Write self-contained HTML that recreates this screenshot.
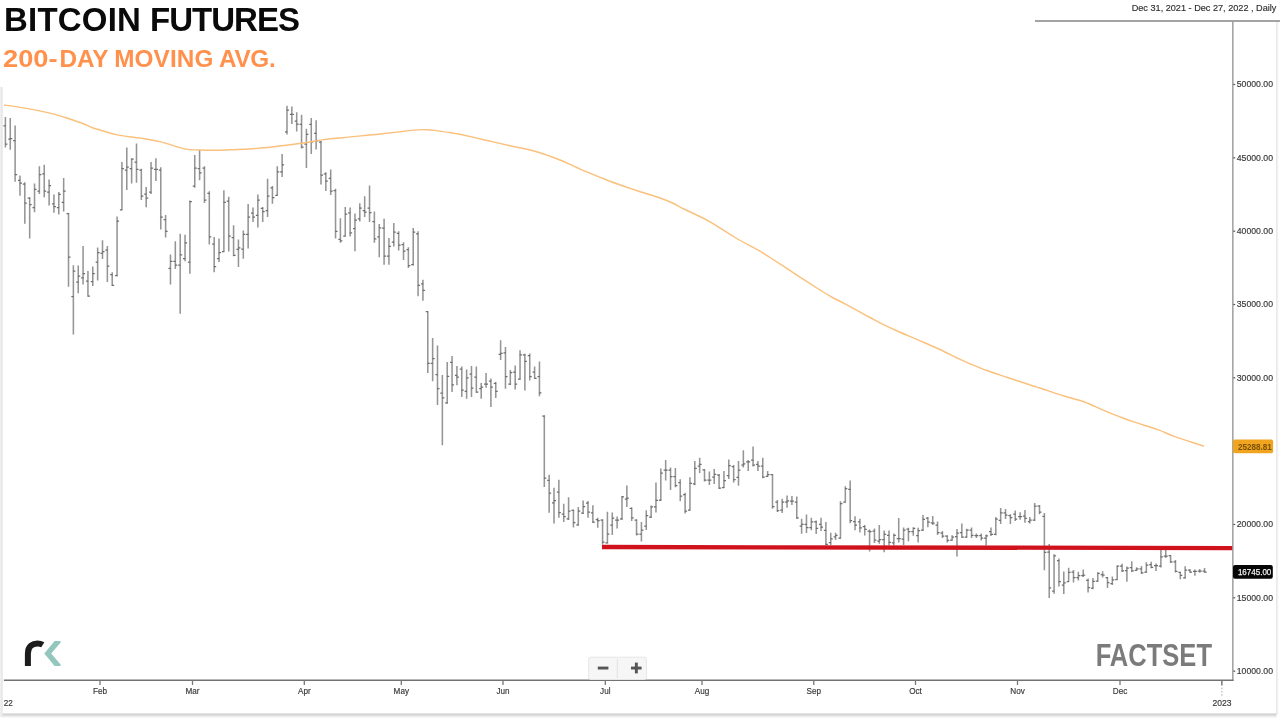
<!DOCTYPE html>
<html lang="en"><head><meta charset="utf-8"><title>Bitcoin Futures</title>
<style>
html,body{margin:0;padding:0;background:#fff;}
body{width:1280px;height:720px;position:relative;overflow:hidden;font-family:"Liberation Sans",sans-serif;}
.title{position:absolute;left:4px;top:1px;margin:0;font-weight:700;font-size:33px;line-height:38px;color:#0a0a0a;white-space:nowrap;letter-spacing:-0.3px;}
.sub{position:absolute;left:3px;top:44.7px;margin:0;font-weight:700;font-size:24.3px;line-height:28px;color:#ff914d;white-space:nowrap;letter-spacing:0.4px;}
svg{position:absolute;left:0;top:0;}
#t1{letter-spacing:0.2px;}#t2{letter-spacing:-0.95px;margin-left:0px;}#s1a{display:inline-block;width:56.5px;transform:scaleX(1.12);transform-origin:0 50%;letter-spacing:0;}#s1{letter-spacing:-0.1px;}#s2{letter-spacing:0.1px;margin-left:-1.2px;}#s3{letter-spacing:-0.3px;margin-left:-1.6px;}
svg text{font-family:"Liberation Sans",sans-serif;}
</style></head><body>
<svg width="1280" height="720" viewBox="0 0 1280 720">
<defs>
<linearGradient id="lg" x1="0" x2="1" y1="0" y2="0"><stop offset="0" stop-color="#f3f3f3"/><stop offset="0.7" stop-color="#e4e4e4"/><stop offset="1" stop-color="#f6f6f6"/></linearGradient>
<linearGradient id="bg" x1="0" x2="0" y1="0" y2="1"><stop offset="0" stop-color="#ffffff"/><stop offset="0.28" stop-color="#cfcfcf"/><stop offset="0.6" stop-color="#e8e8e8"/><stop offset="1" stop-color="#ffffff"/></linearGradient>
<linearGradient id="rg" x1="0" x2="1" y1="0" y2="0"><stop offset="0" stop-color="#e6e6e6"/><stop offset="1" stop-color="#f7f7f7"/></linearGradient>
</defs>
<rect x="0" y="87" width="3" height="630" fill="url(#lg)"/>
<rect x="2.6" y="712.6" width="1274" height="5.8" fill="url(#bg)"/>
<rect x="1276" y="22" width="2.4" height="693" fill="url(#rg)"/>
<g fill="none">
<line x1="1035" y1="21" x2="1280" y2="21" stroke="#a4a4a4" stroke-width="1.8"/>
<line x1="1232.85" y1="21.5" x2="1232.85" y2="680.9" stroke="#949494" stroke-width="1.35"/>
<line x1="3.9" y1="680.25" x2="1233.5" y2="680.25" stroke="#727272" stroke-width="1.3"/>
</g>
<g stroke="#666" stroke-width="1"><line x1="100" y1="680" x2="100" y2="685" stroke="#777" stroke-width="1.3"/><line x1="192.5" y1="680" x2="192.5" y2="685" stroke="#777" stroke-width="1.3"/><line x1="304.3" y1="680" x2="304.3" y2="685" stroke="#777" stroke-width="1.3"/><line x1="401.3" y1="680" x2="401.3" y2="685" stroke="#777" stroke-width="1.3"/><line x1="503" y1="680" x2="503" y2="685" stroke="#777" stroke-width="1.3"/><line x1="605.3" y1="680" x2="605.3" y2="685" stroke="#777" stroke-width="1.3"/><line x1="702" y1="680" x2="702" y2="685" stroke="#777" stroke-width="1.3"/><line x1="813.75" y1="680" x2="813.75" y2="685" stroke="#777" stroke-width="1.3"/><line x1="915.5" y1="680" x2="915.5" y2="685" stroke="#777" stroke-width="1.3"/><line x1="1017.5" y1="680" x2="1017.5" y2="685" stroke="#777" stroke-width="1.3"/><line x1="1120" y1="680" x2="1120" y2="685" stroke="#777" stroke-width="1.3"/><line x1="1233.3" y1="84.5" x2="1235.2" y2="84.5" stroke="#555" stroke-width="1.2"/><line x1="1233.3" y1="157.8" x2="1235.2" y2="157.8" stroke="#555" stroke-width="1.2"/><line x1="1233.3" y1="231.2" x2="1235.2" y2="231.2" stroke="#555" stroke-width="1.2"/><line x1="1233.3" y1="304.5" x2="1235.2" y2="304.5" stroke="#555" stroke-width="1.2"/><line x1="1233.3" y1="377.8" x2="1235.2" y2="377.8" stroke="#555" stroke-width="1.2"/><line x1="1233.3" y1="524.5" x2="1235.2" y2="524.5" stroke="#555" stroke-width="1.2"/><line x1="1233.3" y1="597.8" x2="1235.2" y2="597.8" stroke="#555" stroke-width="1.2"/><line x1="1233.3" y1="671.2" x2="1235.2" y2="671.2" stroke="#555" stroke-width="1.2"/><line x1="1221.85" y1="680" x2="1221.85" y2="685.6" stroke="#777" stroke-width="1.5"/><line x1="1221.85" y1="687.7" x2="1221.85" y2="696.5" stroke="#c4c4c4" stroke-width="1.5" stroke-dasharray="1.5 1.8"/></g>
<g font-size="9.6" fill="#383838" stroke="#383838" stroke-width="0.18"><text transform="translate(100,693.9) scale(0.85,1)" text-anchor="middle">Feb</text><text transform="translate(192.5,693.9) scale(0.85,1)" text-anchor="middle">Mar</text><text transform="translate(304.3,693.9) scale(0.85,1)" text-anchor="middle">Apr</text><text transform="translate(401.3,693.9) scale(0.85,1)" text-anchor="middle">May</text><text transform="translate(503,693.9) scale(0.85,1)" text-anchor="middle">Jun</text><text transform="translate(605.3,693.9) scale(0.85,1)" text-anchor="middle">Jul</text><text transform="translate(702,693.9) scale(0.85,1)" text-anchor="middle">Aug</text><text transform="translate(813.75,693.9) scale(0.85,1)" text-anchor="middle">Sep</text><text transform="translate(915.5,693.9) scale(0.85,1)" text-anchor="middle">Oct</text><text transform="translate(1017.5,693.9) scale(0.85,1)" text-anchor="middle">Nov</text><text transform="translate(1120,693.9) scale(0.85,1)" text-anchor="middle">Dec</text><text transform="translate(1236.8,87.2) scale(0.905,1)">50000.00</text><text transform="translate(1236.8,160.5) scale(0.905,1)">45000.00</text><text transform="translate(1236.8,233.9) scale(0.905,1)">40000.00</text><text transform="translate(1236.8,307.2) scale(0.905,1)">35000.00</text><text transform="translate(1236.8,380.5) scale(0.905,1)">30000.00</text><text transform="translate(1236.8,527.2) scale(0.905,1)">20000.00</text><text transform="translate(1236.8,600.5) scale(0.905,1)">15000.00</text><text transform="translate(1236.8,673.9) scale(0.905,1)">10000.00</text>
<text transform="translate(3.7,705.6) scale(0.85,1)">22</text>
<text transform="translate(1221.9,705.6) scale(0.89,1)" text-anchor="middle">2023</text>
<text x="1131.7" y="10.9" font-size="9.6" textLength="144.7" lengthAdjust="spacingAndGlyphs" fill="#2e2e2e" stroke="#2e2e2e" stroke-width="0.15">Dec 31, 2021 - Dec 27, 2022 , Daily</text>
</g>
<path d="M5.40 117.1V147.5M10.26 118.1V149.8M15.11 125.4V181.8M19.97 175.6V195.7M24.82 182.2V223.8M29.68 197.2V238.4M34.53 183.5V212.2M39.38 166.2V194.0M44.24 164.8V197.2M49.10 179.4V205.6M53.95 194.4V212.8M58.80 191.9V214.6M63.66 177.9V211.6M68.52 213.1V286.8M73.37 265.2V334.5M78.23 265.6V293.2M83.08 245.9V284.4M87.94 270.9V296.6M92.79 266.6V285.9M97.65 247.4V280.6M102.50 240.3V259.0M107.36 245.9V281.9M112.21 272.2V285.9M117.07 216.5V276.3M121.92 162.1V210.3M126.78 147.5V190.0M131.63 158.2V183.5M136.49 143.4V182.8M141.34 168.7V200.0M146.20 186.9V207.3M151.05 162.1V194.0M155.91 158.2V180.9M160.76 167.2V229.6M165.62 215.0V237.5M170.47 254.4V284.4M175.33 241.2V269.0M180.18 233.8V313.8M185.04 234.7V261.3M189.89 200.6V273.7M194.75 155.0V187.8M199.60 149.8V180.3M204.46 166.2V203.0M209.31 191.2V244.4M214.17 236.9V272.2M219.02 238.4V261.9M223.88 190.2V252.1M228.73 196.8V251.6M233.59 225.3V256.2M238.44 239.4V267.0M243.30 230.4V258.7M248.15 204.1V248.4M253.01 207.5V221.9M257.86 194.4V227.6M262.71 206.9V221.9M267.57 178.8V216.9M272.43 185.9V203.8M277.28 166.2V195.7M282.13 154.0V177.0M286.99 105.7V134.4M291.85 106.6V124.0M296.70 112.2V131.6M301.56 114.7V148.4M306.41 128.8V168.1M311.26 117.9V154.0M316.12 120.3V149.4M320.98 140.9V184.4M325.83 172.2V191.0M330.69 169.6V195.0M335.54 188.8V238.4M340.39 218.2V242.8M345.25 206.9V236.6M350.11 207.5V236.6M354.96 213.5V251.2M359.81 203.2V221.6M364.67 196.2V216.9M369.53 185.4V221.9M374.38 211.6V242.8M379.24 224.0V257.2M384.09 218.8V264.7M388.94 238.0V264.7M393.80 223.0V246.5M398.66 231.3V250.6M403.51 242.2V260.0M408.37 247.2V268.0M413.22 228.1V265.6M418.07 231.3V296.2M422.93 279.7V300.7M427.79 311.2V373.1M432.64 338.0V381.2M437.50 345.4V405.0M442.35 375.0V445.2M447.21 361.9V403.7M452.06 355.9V391.9M456.92 366.0V385.3M461.77 366.6V396.9M466.62 369.4V398.8M471.48 366.0V396.9M476.34 366.6V392.8M481.19 383.0V398.8M486.05 373.1V387.8M490.90 378.4V406.9M495.75 382.1V397.9M500.61 340.3V360.0M505.47 346.9V388.7M510.32 369.9V384.9M515.18 365.6V389.6M520.03 350.2V379.7M524.88 353.8V390.6M529.74 353.4V380.6M534.60 366.6V378.8M539.45 361.5V396.2M544.31 415.2V486.9M549.16 474.7V512.8M554.01 487.8V523.4M558.87 479.8V517.8M563.73 503.8V521.9M568.58 497.2V520.0M573.44 509.4V527.6M578.29 507.1V525.7M583.14 500.6V514.0M588.00 501.0V517.8M592.86 505.2V523.0M597.71 517.8V527.8M602.57 519.3V544.6M607.42 511.8V543.5M612.27 512.6V535.0M617.13 516.5V528.5M621.99 495.9V520.0M626.84 485.6V507.0M631.70 507.5V521.0M636.55 519.3V535.6M641.41 521.9V541.6M646.26 510.3V530.0M651.12 505.6V518.1M655.97 482.5V512.5M660.83 468.4V500.9M665.68 460.0V480.6M670.54 467.5V490.0M675.39 467.9V487.2M680.25 479.3V501.2M685.10 492.8V513.4M689.96 477.2V510.6M694.81 461.0V485.3M699.67 457.8V473.1M704.52 469.0V481.6M709.38 471.6V485.0M714.23 469.0V484.0M719.09 474.0V489.0M723.94 470.9V488.1M728.80 459.4V479.1M733.65 465.0V482.5M738.50 461.0V485.7M743.36 450.2V467.5M748.22 460.0V470.9M753.07 446.5V466.6M757.93 461.0V470.9M762.78 457.8V478.2M767.63 470.9V476.9M772.49 474.0V508.8M777.35 499.9V512.0M782.20 498.8V512.9M787.06 495.6V507.8M791.91 496.0V505.0M796.77 496.6V519.0M801.62 518.7V533.7M806.48 514.4V533.1M811.33 517.8V530.3M816.19 520.4V534.0M821.04 517.8V530.9M825.90 521.9V545.3M830.75 532.8V545.0M835.61 532.8V540.0M840.46 501.2V538.8M845.32 486.2V502.6M850.17 480.6V523.2M855.03 516.2V530.3M859.88 518.7V532.6M864.74 525.0V535.4M869.59 529.4V551.5M874.45 528.4V543.0M879.30 525.0V543.8M884.16 530.6V552.2M889.01 530.6V545.6M893.87 533.4V545.6M898.72 517.9V542.4M903.58 527.4V545.0M908.43 527.8V541.3M913.29 527.2V535.7M918.14 527.8V542.4M923.00 515.0V531.0M927.85 517.0V527.2M932.71 516.0V525.0M937.56 521.6V535.0M942.42 531.0V538.1M947.27 535.3V542.4M952.13 535.3V540.4M956.98 529.1V556.5M961.84 523.5V537.8M966.69 528.8V537.8M971.55 527.4V538.1M976.40 533.4V538.1M981.26 533.4V540.6M986.11 534.4V545.6M990.97 527.4V535.9M995.82 517.0V535.3M1000.68 508.1V524.0M1005.53 509.0V519.0M1010.39 514.3V524.0M1015.24 510.4V520.9M1020.10 512.2V519.8M1024.95 510.0V522.8M1029.81 517.0V523.5M1034.66 502.9V520.9M1039.52 505.0V514.3M1044.37 513.0V570.2M1049.23 544.0V598.1M1054.08 554.2V593.8M1058.94 558.6V586.6M1063.79 571.4V594.0M1068.65 567.8V582.0M1073.50 570.0V582.5M1078.36 571.8V580.5M1083.21 569.5V577.1M1088.07 578.5V592.5M1092.92 578.1V589.3M1097.78 572.2V581.7M1102.63 571.2V577.5M1107.49 577.0V588.0M1112.34 576.4V585.1M1117.20 565.6V579.8M1122.05 563.8V571.9M1126.91 566.5V581.8M1131.76 561.2V571.9M1136.62 567.3V570.9M1141.47 566.0V574.1M1146.33 562.2V572.9M1151.18 561.8V568.3M1156.04 563.4V570.9M1160.89 549.7V567.6M1165.75 549.7V557.9M1170.60 555.0V563.0M1175.46 559.9V572.6M1180.31 571.7V579.2M1185.17 566.2V578.6M1190.02 569.2V572.8M1194.88 569.6V575.8M1199.73 569.0V572.8M1204.59 567.9V572.8" stroke="#959595" stroke-width="1.55" fill="none"/>
<path d="M3.40 125.9H5.70M5.10 144.1H7.40M8.26 139.0H10.56M9.96 138.5H12.26M13.11 140.6H15.41M14.81 174.7H17.11M17.97 180.3H20.27M19.67 183.1H21.97M22.82 184.0H25.12M24.52 203.2H26.82M27.68 198.1H29.98M29.38 204.7H31.68M32.53 207.5H34.83M34.23 189.3H36.53M37.38 191.0H39.68M39.09 174.7H41.38M42.24 173.8H44.54M43.94 191.0H46.24M47.10 192.0H49.40M48.80 185.6H51.10M51.95 203.8H54.25M53.65 206.6H55.95M56.80 207.5H59.10M58.51 194.4H60.80M61.66 202.4H63.96M63.36 191.0H65.66M66.52 213.5H68.82M68.22 257.2H70.52M71.37 296.6H73.67M73.07 271.2H75.37M76.23 282.0H78.53M77.93 276.0H80.23M81.08 277.8H83.38M82.78 273.7H85.08M85.94 281.0H88.24M87.64 296.2H89.94M90.79 281.6H93.09M92.49 273.7H94.79M95.65 262.2H97.95M97.35 252.5H99.65M100.50 253.4H102.80M102.20 251.6H104.50M105.36 250.2H107.66M107.06 266.0H109.36M110.21 274.6H112.51M111.91 285.3H114.21M115.07 275.6H117.37M116.77 221.2H119.07M119.92 209.8H122.22M121.62 168.7H123.92M124.78 170.0H127.08M126.48 167.2H128.78M129.63 168.5H131.93M131.33 159.1H133.63M134.49 162.0H136.79M136.19 169.4H138.49M139.34 170.0H141.64M141.04 196.2H143.34M144.20 194.0H146.50M145.90 198.1H148.20M149.05 192.0H151.35M150.75 168.1H153.05M153.91 169.4H156.21M155.61 169.4H157.91M158.76 170.0H161.06M160.46 217.2H162.76M163.62 219.7H165.92M165.31 231.3H167.62M168.47 268.4H170.77M170.17 261.3H172.47M173.33 261.3H175.63M175.03 265.0H177.33M178.18 265.0H180.48M179.88 254.8H182.18M183.04 258.7H185.34M184.74 242.8H187.04M187.89 262.2H190.19M189.59 201.5H191.89M192.75 186.0H195.05M194.45 168.1H196.75M197.60 168.7H199.90M199.30 172.8H201.60M202.46 168.1H204.76M204.16 200.0H206.46M207.31 193.4H209.61M209.01 236.9H211.31M212.17 244.0H214.47M213.87 266.6H216.17M217.02 258.5H219.32M218.72 252.5H221.02M221.88 251.6H224.18M223.58 202.4H225.88M226.73 201.0H229.03M228.43 236.0H230.73M231.59 237.5H233.89M233.29 255.3H235.59M236.44 249.3H238.74M238.14 247.8H240.44M241.30 249.1H243.60M243.00 234.3H245.30M246.15 234.3H248.45M247.85 217.2H250.15M251.01 213.1H253.31M252.71 217.2H255.01M255.86 215.4H258.16M257.56 200.0H259.86M260.71 208.4H263.01M262.41 211.6H264.71M265.57 210.7H267.87M267.27 196.2H269.57M270.43 187.8H272.73M272.12 197.6H274.43M275.28 195.3H277.58M276.98 171.9H279.28M280.13 171.9H282.44M281.83 164.8H284.13M284.99 131.9H287.29M286.69 110.0H288.99M289.85 114.3H292.15M291.55 114.3H293.85M294.70 121.2H297.00M296.40 124.0H298.70M299.56 124.4H301.86M301.25 147.1H303.56M304.41 144.1H306.71M306.11 134.4H308.41M309.26 124.4H311.56M310.96 141.9H313.26M314.12 133.4H316.42M315.82 140.9H318.12M318.98 142.2H321.28M320.68 175.2H322.98M323.83 173.8H326.13M325.53 181.2H327.83M328.69 178.4H330.99M330.38 191.2H332.69M333.54 190.6H335.84M335.24 231.3H337.54M338.39 239.4H340.69M340.09 240.9H342.39M343.25 236.0H345.55M344.95 214.0H347.25M348.11 212.8H350.41M349.81 232.8H352.11M352.96 228.7H355.26M354.66 220.2H356.96M357.81 218.8H360.12M359.51 208.0H361.81M362.67 210.7H364.97M364.37 212.2H366.67M367.53 208.0H369.83M369.23 212.6H371.53M372.38 221.6H374.68M374.08 238.8H376.38M377.24 236.9H379.54M378.94 227.8H381.24M382.09 228.1H384.39M383.79 256.2H386.09M386.94 256.2H389.25M388.64 246.3H390.94M391.80 242.2H394.10M393.50 232.2H395.80M396.66 233.4H398.96M398.36 245.0H400.66M401.51 244.6H403.81M403.21 251.2H405.51M406.37 249.7H408.67M408.06 265.6H410.37M411.22 264.7H413.52M412.92 232.2H415.22M416.07 233.8H418.38M417.77 285.3H420.07M420.93 283.8H423.23M422.63 290.4H424.93M425.79 311.6H428.09M427.49 363.4H429.79M430.64 363.4H432.94M432.34 358.5H434.64M435.50 374.6H437.80M437.19 388.5H439.50M440.35 393.2H442.65M442.05 397.9H444.35M445.21 402.8H447.51M446.91 376.3H449.21M450.06 362.4H452.36M451.76 384.8H454.06M454.92 375.4H457.22M456.62 377.2H458.92M459.77 369.0H462.07M461.47 390.0H463.77M464.62 391.3H466.93M466.32 377.8H468.62M469.48 374.0H471.78M471.18 388.1H473.48M474.34 377.2H476.64M476.04 392.2H478.34M479.19 388.7H481.49M480.89 387.2H483.19M484.05 384.0H486.35M485.75 384.0H488.05M488.90 381.2H491.20M490.60 387.2H492.90M493.75 383.4H496.06M495.45 391.3H497.75M498.61 354.4H500.91M500.31 353.4H502.61M503.47 352.9H505.77M505.17 376.5H507.47M508.32 384.0H510.62M510.02 372.6H512.32M513.18 372.2H515.48M514.88 384.0H517.18M518.03 379.1H520.33M519.73 354.9H522.03M522.88 354.9H525.18M524.59 361.3H526.88M527.74 355.7H530.04M529.44 376.5H531.74M532.60 372.2H534.89M534.30 378.4H536.60M537.45 376.5H539.75M539.15 392.8H541.45M542.31 416.2H544.61M544.01 478.0H546.31M547.16 480.3H549.46M548.86 493.0H551.16M552.01 502.8H554.31M553.72 500.6H556.01M556.87 492.1H559.17M558.57 512.6H560.87M561.73 514.0H564.02M563.43 516.5H565.73M566.58 518.8H568.88M568.28 511.2H570.58M571.44 510.3H573.74M573.14 522.5H575.44M576.29 524.8H578.59M577.99 511.2H580.29M581.14 513.1H583.44M582.85 506.6H585.14M586.00 503.2H588.30M587.70 512.2H590.00M590.86 512.8H593.15M592.56 522.0H594.86M595.71 519.7H598.01M597.41 520.6H599.71M600.57 520.2H602.87M602.27 542.2H604.57M605.42 542.8H607.72M607.12 534.1H609.42M610.27 525.0H612.57M611.98 518.2H614.27M615.13 520.2H617.43M616.83 520.2H619.13M619.99 518.8H622.28M621.69 496.8H623.99M624.84 499.0H627.14M626.54 498.1H628.84M629.70 508.4H632.00M631.40 517.8H633.70M634.55 520.2H636.85M636.25 534.1H638.55M639.41 534.1H641.71M641.11 530.0H643.41M644.26 526.2H646.56M645.96 515.6H648.26M649.12 517.2H651.41M650.82 506.9H653.12M653.97 506.9H656.27M655.67 500.3H657.97M658.83 500.0H661.12M660.53 473.1H662.83M663.68 470.0H665.98M665.38 470.0H667.68M668.54 470.0H670.84M670.24 476.5H672.54M673.39 476.5H675.69M675.09 485.7H677.39M678.25 482.5H680.54M679.95 496.0H682.25M683.10 494.7H685.40M684.80 511.0H687.10M687.96 510.0H690.25M689.66 483.4H691.96M692.81 483.8H695.11M694.51 468.4H696.81M697.67 466.0H699.97M699.37 464.3H701.67M702.52 469.8H704.82M704.22 480.0H706.52M707.38 480.0H709.67M709.08 480.0H711.38M712.23 477.2H714.53M713.93 474.4H716.23M717.09 475.0H719.38M718.79 488.1H721.09M721.94 487.6H724.24M723.64 480.6H725.94M726.80 475.6H729.10M728.50 465.6H730.80M731.65 466.6H733.95M733.35 479.7H735.65M736.50 477.4H738.80M738.21 470.0H740.50M741.36 465.2H743.66M743.06 463.8H745.36M746.22 461.9H748.51M747.92 461.9H750.22M751.07 460.0H753.37M752.77 465.2H755.07M755.93 464.3H758.23M757.63 466.2H759.93M760.78 466.2H763.08M762.48 477.2H764.78M765.63 476.3H767.93M767.34 474.6H769.63M770.49 474.6H772.79M772.19 506.5H774.49M775.35 502.2H777.64M777.05 510.6H779.35M780.20 510.0H782.50M781.90 502.2H784.20M785.06 502.2H787.36M786.76 500.9H789.06M789.91 501.2H792.21M791.61 501.2H793.91M794.77 502.2H797.07M796.47 517.8H798.77M799.62 526.0H801.92M801.32 524.3H803.62M804.48 524.3H806.77M806.18 527.5H808.48M809.33 527.5H811.63M811.03 521.9H813.33M814.19 521.9H816.49M815.89 528.4H818.19M819.04 524.3H821.34M820.74 527.1H823.04M823.90 530.3H826.20M825.60 544.4H827.90M828.75 542.5H831.05M830.45 538.8H832.75M833.61 536.9H835.90M835.31 535.4H837.61M838.46 538.2H840.76M840.16 503.7H842.46M843.32 502.2H845.62M845.02 488.7H847.32M848.17 489.4H850.47M849.87 520.6H852.17M853.03 521.5H855.33M854.73 525.0H857.03M857.88 521.9H860.18M859.58 527.9H861.88M862.74 526.6H865.03M864.44 529.4H866.74M867.59 531.2H869.89M869.29 531.6H871.59M872.45 531.2H874.75M874.15 540.2H876.45M877.30 541.0H879.60M879.00 539.6H881.30M882.16 539.6H884.46M883.86 534.4H886.16M887.01 535.3H889.31M888.71 542.4H891.01M891.87 542.8H894.16M893.57 535.3H895.87M896.72 538.5H899.02M898.42 538.5H900.72M901.58 539.0H903.88M903.28 530.2H905.58M906.43 529.1H908.73M908.13 531.6H910.43M911.29 531.6H913.59M912.99 528.4H915.29M916.14 535.7H918.44M917.84 530.6H920.14M921.00 530.2H923.29M922.70 519.4H925.00M925.85 518.0H928.15M927.55 522.2H929.85M930.71 522.8H933.00M932.41 523.1H934.71M935.56 525.0H937.86M937.26 532.5H939.56M940.42 533.0H942.72M942.12 536.2H944.42M945.27 536.2H947.57M946.97 540.4H949.27M950.13 540.0H952.43M951.83 537.2H954.13M954.98 536.6H957.28M956.68 533.0H958.98M959.84 532.5H962.13M961.54 537.2H963.84M964.69 537.2H966.99M966.39 530.2H968.69M969.55 530.2H971.85M971.25 535.3H973.55M974.40 535.7H976.70M976.10 535.7H978.40M979.26 535.7H981.56M980.96 538.1H983.26M984.11 538.1H986.41M985.81 535.9H988.11M988.97 531.6H991.26M990.67 534.4H992.97M993.82 534.4H996.12M995.52 519.0H997.82M998.68 520.3H1000.98M1000.38 512.8H1002.68M1003.53 512.8H1005.83M1005.23 515.0H1007.53M1008.39 515.6H1010.69M1010.09 517.5H1012.39M1013.24 514.1H1015.54M1014.94 519.0H1017.24M1018.10 516.6H1020.39M1019.80 516.6H1022.10M1022.95 516.2H1025.25M1024.65 518.4H1026.95M1027.81 521.6H1030.11M1029.51 520.0H1031.81M1032.66 520.0H1034.96M1034.36 506.2H1036.66M1037.52 506.2H1039.82M1039.22 512.2H1041.52M1042.37 516.4H1044.67M1044.07 552.3H1046.37M1047.23 552.0H1049.53M1048.93 587.9H1051.23M1052.08 591.0H1054.38M1053.78 555.9H1056.08M1056.94 560.7H1059.24M1058.64 581.5H1060.94M1061.79 585.0H1064.09M1063.49 582.8H1065.79M1066.65 581.5H1068.95M1068.35 572.3H1070.65M1071.50 572.0H1073.80M1073.20 577.5H1075.50M1076.36 577.5H1078.66M1078.06 575.6H1080.36M1081.21 575.6H1083.51M1082.91 575.2H1085.21M1086.07 580.4H1088.37M1087.77 587.6H1090.07M1090.92 588.1H1093.22M1092.62 581.3H1094.92M1095.78 581.2H1098.08M1097.48 573.4H1099.78M1100.63 574.7H1102.93M1102.33 575.2H1104.63M1105.49 577.6H1107.79M1107.19 582.5H1109.49M1110.34 583.6H1112.64M1112.04 579.8H1114.34M1115.20 579.5H1117.50M1116.90 566.0H1119.20M1120.05 566.0H1122.35M1121.75 570.9H1124.05M1124.91 570.6H1127.21M1126.61 568.0H1128.91M1129.76 567.6H1132.06M1131.46 570.9H1133.76M1134.62 570.3H1136.92M1136.32 568.8H1138.62M1139.47 568.8H1141.77M1141.17 572.9H1143.47M1144.33 572.2H1146.63M1146.03 565.0H1148.33M1149.18 564.5H1151.48M1150.88 567.3H1153.18M1154.04 565.7H1156.34M1155.74 565.7H1158.04M1158.89 566.0H1161.19M1160.59 556.9H1162.89M1163.75 556.1H1166.05M1165.45 556.1H1167.75M1168.60 555.7H1170.90M1170.30 561.8H1172.60M1173.46 561.9H1175.76M1175.16 571.4H1177.46M1178.31 572.3H1180.61M1180.01 575.4H1182.31M1183.17 577.9H1185.47M1184.87 570.2H1187.17M1188.02 570.0H1190.32M1189.72 572.1H1192.02M1192.88 571.4H1195.18M1194.58 571.4H1196.88M1197.73 571.1H1200.03M1199.43 571.1H1201.73M1202.59 571.1H1204.89M1204.29 572.1H1206.59" stroke="#6e6e6e" stroke-width="1.25" fill="none"/>
<path d="M4.0 105.0C7.5 105.5 17.3 106.8 25.0 108.1C32.7 109.4 43.3 111.5 50.0 113.1C56.7 114.7 60.0 115.9 65.0 117.5C70.0 119.1 75.2 120.7 80.0 122.5C84.8 124.3 90.4 126.9 93.8 128.2C97.1 129.4 96.3 128.9 100.0 130.0C103.7 131.1 110.2 133.3 116.0 134.6C121.8 135.8 130.9 136.9 135.0 137.5C139.1 138.1 136.5 137.4 140.6 138.1C144.7 138.8 153.2 140.1 159.4 141.6C165.7 143.1 173.4 145.8 178.1 147.1C182.8 148.4 184.1 148.9 187.5 149.4C190.9 149.9 194.1 149.8 198.8 150.0C203.4 150.2 210.4 150.3 215.6 150.3C220.8 150.3 224.5 150.0 230.0 149.8C235.5 149.5 242.5 149.4 248.8 149.0C255.0 148.6 261.2 148.1 267.5 147.5C273.8 146.9 280.0 146.0 286.2 145.2C292.5 144.5 298.8 143.7 305.0 142.8C311.2 141.9 317.5 140.4 323.8 139.6C330.0 138.8 336.2 138.4 342.5 137.8C348.8 137.1 355.0 136.5 361.2 135.9C367.5 135.3 373.8 134.7 380.0 134.0C386.2 133.3 392.5 132.6 398.8 131.9C405.0 131.2 412.8 130.3 417.5 129.9C422.2 129.5 423.8 129.6 426.9 129.7C430.0 129.8 431.6 130.0 436.2 130.6C440.9 131.2 451.0 132.8 455.0 133.4C459.0 134.0 455.0 133.2 460.0 134.2C465.0 135.3 476.7 138.1 485.0 140.0C493.3 141.9 501.7 143.9 510.0 145.8C518.3 147.6 526.7 148.9 535.0 151.2C543.3 153.6 551.7 156.7 560.0 160.0C568.3 163.3 576.7 167.7 585.0 171.2C593.3 174.8 601.7 178.1 610.0 181.2C618.3 184.4 626.7 187.2 635.0 190.0C643.3 192.8 653.8 195.8 660.0 198.0C666.2 200.2 668.3 201.1 672.5 203.0C676.7 204.9 678.8 206.4 685.0 209.5C691.2 212.6 701.7 217.1 710.0 221.8C718.3 226.4 726.7 232.6 735.0 237.5C743.3 242.4 754.2 247.9 760.0 251.2C765.8 254.6 764.2 253.8 770.0 257.5C775.8 261.2 786.7 268.3 795.0 273.8C803.3 279.2 813.8 286.0 820.0 290.0C826.2 294.0 828.3 295.2 832.5 297.5C836.7 299.8 838.8 300.4 845.0 303.8C851.2 307.1 863.8 314.1 870.0 317.5C876.2 320.9 878.3 322.2 882.5 324.2C886.7 326.3 888.8 327.2 895.0 330.0C901.2 332.8 912.5 337.5 920.0 340.8C927.5 344.0 933.8 346.6 940.0 349.5C946.2 352.4 952.5 355.9 957.5 358.2C962.5 360.6 965.0 361.7 970.0 363.8C975.0 365.8 981.2 368.5 987.5 370.8C993.8 373.0 1000.0 375.0 1007.5 377.5C1015.0 380.0 1027.1 384.0 1032.5 385.8C1037.9 387.5 1034.8 386.3 1040.0 388.0C1045.2 389.7 1056.1 393.5 1063.4 395.8C1070.7 398.1 1077.2 399.4 1083.8 401.7C1090.3 404.0 1096.8 407.4 1102.5 409.8C1108.2 412.2 1112.9 414.1 1118.1 416.1C1123.3 418.1 1127.2 419.7 1133.8 421.9C1140.3 424.1 1150.7 427.1 1157.2 429.4C1163.7 431.7 1167.6 433.9 1172.8 435.9C1178.0 437.8 1183.2 439.4 1188.4 441.1C1193.6 442.8 1201.4 445.4 1204.0 446.2" fill="none" stroke="#fbc07c" stroke-width="1.45" stroke-linejoin="round"/>
<line x1="602" y1="547" x2="1232.2" y2="548.1" stroke="#d0121d" stroke-width="4.3"/>
<rect x="1233" y="439.6" width="40.1" height="13.7" rx="1.8" fill="#f0a420"/>
<text x="1237.9" y="449.9" font-size="9.6" font-weight="700" fill="#7a5206" textLength="34" lengthAdjust="spacingAndGlyphs">25288.81</text>
<rect x="1233" y="565.1" width="39.8" height="13.6" rx="2" fill="#050505"/>
<text x="1237.9" y="575.4" font-size="9.6" fill="#f2f2f2" stroke="#f2f2f2" stroke-width="0.25" textLength="33.4" lengthAdjust="spacingAndGlyphs">16745.00</text>
<g>
<rect x="588.7" y="657.2" width="57.7" height="22.3" rx="2" fill="#f6f6f6" stroke="#e6e6e6" stroke-width="1"/>
<line x1="617.3" y1="659" x2="617.3" y2="678" stroke="#e2e2e2" stroke-width="1"/>
<rect x="597.8" y="666.6" width="10.6" height="2.9" fill="#555"/>
<rect x="631" y="666.6" width="10.6" height="2.9" fill="#555"/>
<rect x="634.9" y="662.6" width="2.9" height="10.8" fill="#555"/>
</g>
<path d="M27.9 666V653.5C27.9 645.8 33 643.4 37.5 643.4C39.5 643.4 41.3 643.9 42.8 644.8" fill="none" stroke="#1c1c1c" stroke-width="6"/>
<polygon points="54.6,641 60.6,641 60.6,642.6 51.2,653.6 60.6,664.6 60.6,666 54.6,666 44.3,653.6" fill="#93c6bd"/>
<text x="1095.7" y="666.4" font-size="31" font-weight="700" fill="#7b7b7b" textLength="116.3" lengthAdjust="spacingAndGlyphs">FACTSET</text>
</svg>
<h1 class="title"><span id="t1">BITCOIN</span> <span id="t2">FUTURES</span></h1>
<div class="sub"><span id="s1a">200-</span><span id="s1">DAY</span> <span id="s2">MOVING</span> <span id="s3">AVG.</span></div>
</body></html>
